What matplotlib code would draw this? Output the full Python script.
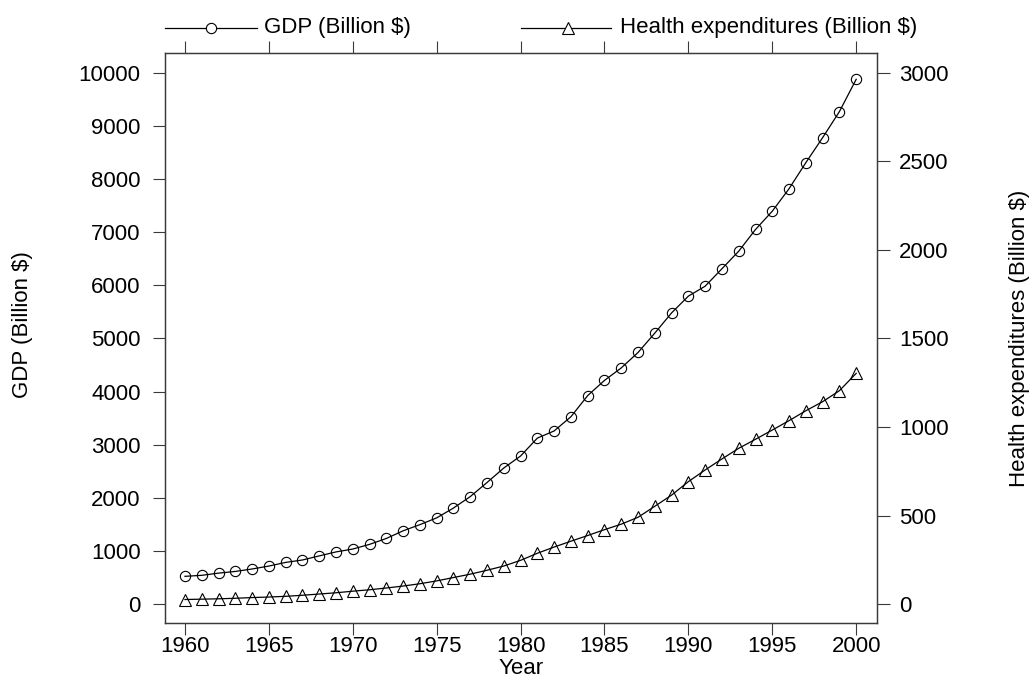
import matplotlib
matplotlib.use("Agg")
import matplotlib.pyplot as plt
from matplotlib.lines import Line2D

plt.rcParams['font.family'] = ['Liberation Sans', 'DejaVu Sans']

years = list(range(1960, 2001))
gdp = [526, 545, 586, 618, 664, 719, 788, 833, 910, 985,
       1039, 1127, 1238, 1382, 1498, 1625, 1810, 2025, 2290, 2563,
       2789, 3125, 3260, 3527, 3925, 4210, 4445, 4735, 5100, 5480,
       5795, 5982, 6310, 6640, 7048, 7392, 7815, 8305, 8775, 9265,
       9872]
health = [27, 29, 31, 34, 38, 41, 45, 51, 58, 65,
          74, 82, 92, 103, 116, 132, 151, 170, 192, 216,
          248, 288, 323, 356, 388, 421, 452, 491, 553, 616,
          692, 758, 820, 880, 931, 983, 1036, 1092, 1143, 1205,
          1303]

gdp_label = "GDP (Billion $)"
health_label = "Health expenditures (Billion $)"
gdp_ticks = list(range(0, 10001, 1000))
health_ticks = list(range(0, 3001, 500))
year_ticks = list(range(1960, 2001, 5))

W, H = 1032, 682
fig = plt.figure(figsize=(W / 100, H / 100), dpi=100)
ax = fig.add_axes([165 / W, (H - 623) / H, 712 / W, 570 / H])
ax2 = ax.twinx()

axis_col = '#3a3a3a'
fs = 16

ax.plot(years, gdp, color='black', lw=0.9, marker='o', ms=7.4,
        mfc='none', mec='black', mew=0.8)
ax2.plot(years, health, color='black', lw=0.9, marker='^', ms=8,
         mfc='none', mec='black', mew=0.8)

ax.set_xlim(1958.81, 2001.24)
ax.set_ylim(-351.6, 10366.7)
ax2.set_ylim(-351.6 * 0.3, 10366.7 * 0.3)

ax.set_xticks(year_ticks)
ax.set_yticks(gdp_ticks)
ax2.set_yticks(health_ticks)

for a in (ax, ax2):
    for s in a.spines.values():
        s.set_color(axis_col)
        s.set_linewidth(0.9)

ax.tick_params(axis='x', which='both', direction='out', length=8.5, width=0.8,
               color=axis_col, labelsize=fs, pad=1, top=True, labeltop=False)
ax.tick_params(axis='y', direction='out', length=9, width=0.8,
               color=axis_col, labelsize=fs, pad=8.5, right=False)
ax2.tick_params(axis='y', direction='out', length=9, width=0.8,
                color=axis_col, labelsize=fs, pad=7)

# axis titles
fig.text(521 / W, 1 - 669 / H, "Year", ha='center', va='center', fontsize=fs)
fig.text(23 / W, 1 - 325 / H, gdp_label, ha='center', va='center',
         rotation=90, fontsize=fs)
fig.text(1020 / W, 1 - 338 / H, health_label, ha='center', va='center',
         rotation=90, fontsize=fs)

# key across the top
ky = 1 - 28 / H
fig.add_artist(Line2D([165 / W, 257 / W], [ky, ky], color='black', lw=0.9,
                      transform=fig.transFigure))
fig.add_artist(Line2D([211 / W], [ky], marker='o', ms=7.4, mfc='white',
                      mec='black', mew=0.8, transform=fig.transFigure))
fig.text(264 / W, ky, gdp_label, ha='left', va='center', fontsize=fs)
fig.add_artist(Line2D([521 / W, 611 / W], [ky, ky], color='black', lw=0.9,
                      transform=fig.transFigure))
fig.add_artist(Line2D([568 / W], [ky], marker='^', ms=8, mfc='white',
                      mec='black', mew=0.8, transform=fig.transFigure))
fig.text(620 / W, ky, health_label, ha='left', va='center', fontsize=fs)

fig.savefig("out.png", dpi=100)
